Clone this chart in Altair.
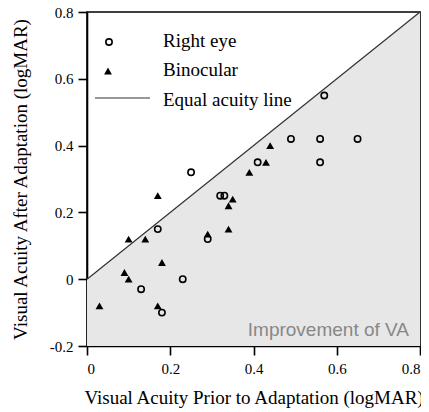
import altair as alt
import pandas as pd

# Right eye (open circles)
right_x = [0.25, 0.32, 0.33, 0.41, 0.17, 0.29, 0.23, 0.13, 0.18, 0.57, 0.49, 0.56, 0.65, 0.56]
right_y = [0.32, 0.25, 0.25, 0.35, 0.15, 0.12, 0.00, -0.03, -0.10, 0.55, 0.42, 0.42, 0.42, 0.35]

# Binocular (filled triangles)
bino_x = [0.17, 0.35, 0.34, 0.39, 0.43, 0.44, 0.10, 0.14, 0.34, 0.18, 0.09, 0.10, 0.03, 0.17, 0.29]
bino_y = [0.25, 0.24, 0.22, 0.32, 0.35, 0.40, 0.12, 0.12, 0.15, 0.05, 0.02, 0.00, -0.08, -0.08, 0.135]

# Equal acuity line
eq_x = [0.0, 0.8]
eq_y = [0.0, 0.8]

axis_ticks = [-0.2, 0.0, 0.2, 0.4, 0.6, 0.8]
x_ticks = [0.0, 0.2, 0.4, 0.6, 0.8]
legend_labels = ["Right eye", "Binocular", "Equal acuity line"]
shade_label = "Improvement of VA"

W, H = 333, 334
SERIF = "Liberation Serif"
LABEL_FONT = "Times New Roman, Liberation Serif, serif"

df_r = pd.DataFrame({"x": right_x, "y": right_y})
df_b = pd.DataFrame({"x": bino_x, "y": bino_y})
df_eq = pd.DataFrame({"x": eq_x, "y": eq_y})
one = pd.DataFrame({"a": [0]})

label_expr = "datum.value == 0 ? '0' : (datum.value < 0 ? '-' + format(-datum.value, '.1f') : format(datum.value, '.1f'))"

xscale = alt.Scale(domain=[0, 0.8], nice=False, zero=False)
yscale = alt.Scale(domain=[-0.2, 0.8], nice=False, zero=False)

xaxis = alt.Axis(values=x_ticks, labelExpr=label_expr, title="Visual Acuity Prior to Adaptation (logMAR)",
                 titleX=W / 2, titleY=57, titleBaseline="alphabetic", titleAlign="center",
                 labelPadding=6, labelFont=LABEL_FONT, labelFontSize=15, labelColor="black",
                 titleFont=SERIF, titleFontSize=19, titleFontWeight="normal", titleColor="black")
yaxis = alt.Axis(values=axis_ticks, labelExpr=label_expr, title="Visual Acuity After Adaptation (logMAR)",
                 titleX=-67, titleY=H / 2, titleAngle=-90, titleBaseline="middle", titleAlign="center",
                 labelPadding=5, labelFont=LABEL_FONT, labelFontSize=15, labelColor="black",
                 titleFont=SERIF, titleFontSize=19, titleFontWeight="normal", titleColor="black")

area = alt.Chart(df_eq).mark_area(color="#e7e7e7", opacity=1).encode(
    x=alt.X("x:Q", scale=xscale, axis=xaxis),
    y=alt.Y("y:Q", scale=yscale, axis=yaxis),
    y2=alt.datum(-0.2),
)

line = alt.Chart(df_eq).mark_line(color="#333333", strokeWidth=1.2).encode(
    x="x:Q", y="y:Q"
)

circles = alt.Chart(df_r).mark_point(shape="circle", filled=False, color="black", strokeWidth=1.6, size=40, opacity=1).encode(
    x="x:Q", y="y:Q"
)

tris = alt.Chart(df_b).mark_point(shape="triangle-up", filled=True, color="black", size=62, opacity=1).encode(
    x="x:Q", y="y:Q"
)

leg_c = alt.Chart(one).mark_point(shape="circle", filled=False, color="black", strokeWidth=1.6, size=40, opacity=1).encode(
    x=alt.value(22), y=alt.value(30)
)
leg_t = alt.Chart(one).mark_point(shape="triangle-up", filled=True, color="black", size=62, opacity=1).encode(
    x=alt.value(21), y=alt.value(59)
)
leg_l = alt.Chart(one).mark_rule(color="#333333", strokeWidth=1.2).encode(
    x=alt.value(8), x2=alt.value(63), y=alt.value(86)
)

def leg_text(txt, ypos):
    return alt.Chart(one).mark_text(text=txt, font=SERIF, fontSize=19, align="left", baseline="alphabetic", color="black").encode(
        x=alt.value(76), y=alt.value(ypos)
    )

t1 = leg_text(legend_labels[0], 35)
t2 = leg_text(legend_labels[1], 64)
t3 = leg_text(legend_labels[2], 94)

shade_txt = alt.Chart(one).mark_text(text=shade_label, font="Liberation Sans", fontSize=19, align="right",
                                     baseline="alphabetic", color="#888888").encode(
    x=alt.value(322), y=alt.value(324)
)

chart = alt.layer(area, line, circles, tris, leg_c, leg_t, leg_l, t1, t2, t3, shade_txt).properties(
    width=W, height=H,
    autosize=alt.AutoSizeParams(type="none"),
    padding={"left": 79, "top": 4, "right": 1, "bottom": 64},
).configure_view(
    stroke="black", strokeWidth=1.6
).configure_axis(
    grid=False, domainColor="black", domainWidth=1.6, tickColor="black", tickWidth=1.6, tickSize=9,
)

chart.save("out.html", embed_options={"renderer": "svg", "actions": False})
